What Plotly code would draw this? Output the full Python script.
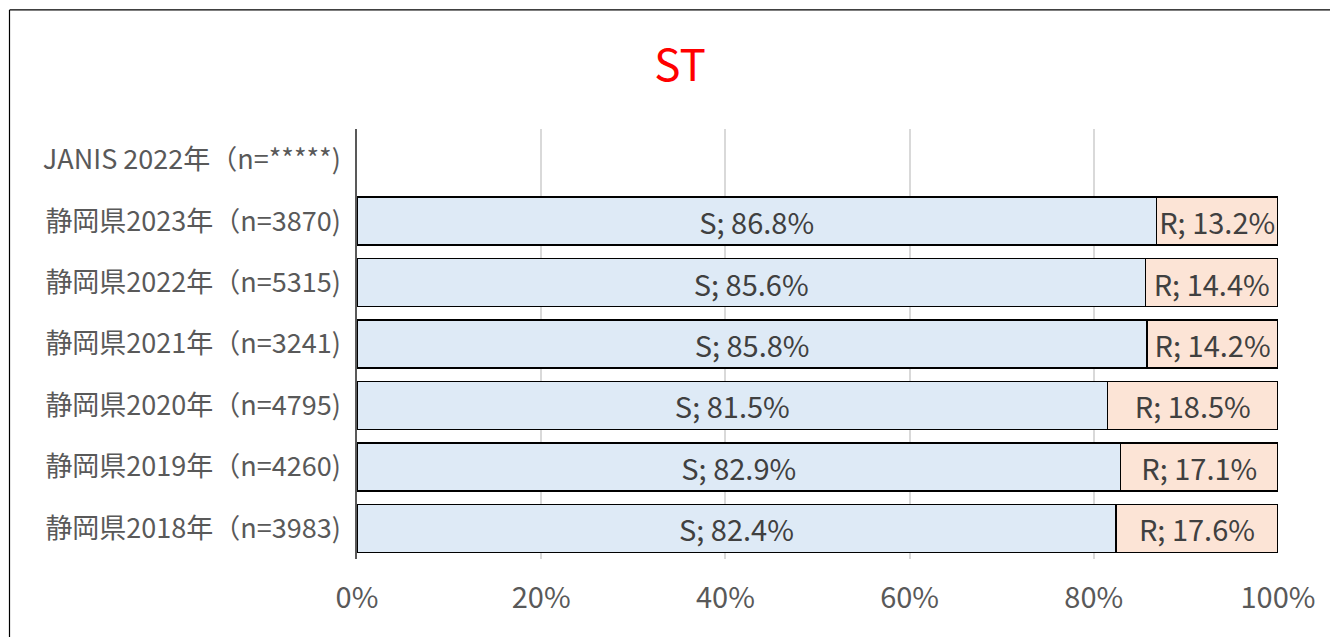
import plotly.graph_objects as go

categories = [
    "JANIS 2022年（n=*****)",
    "静岡県2023年（n=3870)",
    "静岡県2022年（n=5315)",
    "静岡県2021年（n=3241)",
    "静岡県2020年（n=4795)",
    "静岡県2019年（n=4260)",
    "静岡県2018年（n=3983)",
]
s_values = [None, 86.8, 85.6, 85.8, 81.5, 82.9, 82.4]
r_values = [None, 13.2, 14.4, 14.2, 18.5, 17.1, 17.6]
x_ticks = [0, 20, 40, 60, 80, 100]
x_tick_labels = ["0%", "20%", "40%", "60%", "80%", "100%"]

# page body has an 8px default margin; compensate
OFF = 8
W, H = 1338, 637
L = 357 - OFF
T = 129 - OFF
pw = 1278 - 357
ph = 429.7
R = W - L - pw
B = H - T - ph

font_family = "Noto Sans CJK JP"

fig = go.Figure()
for name, vals, color in [("S", s_values, "#DEEAF6"), ("R", r_values, "#FCE4D6")]:
    fig.add_trace(go.Bar(
        name=name, y=categories, x=vals, orientation="h",
        marker=dict(color=color, line=dict(color="#000000", width=1.5)),
        texttemplate=name + "; %{x:.1f}%",
        textposition="inside", insidetextanchor="middle", textangle=0,
        constraintext="none",
        textfont=dict(family=font_family, size=29, color="#404040"),
        hoverinfo="skip",
    ))

px_x = lambda p: (p - OFF - L) / pw
px_y = lambda p: (T + ph - (p - OFF)) / ph

fig.update_layout(
    width=W, height=H,
    barmode="stack", bargap=0.218,
    showlegend=False,
    plot_bgcolor="white", paper_bgcolor="white",
    margin=dict(l=L, r=R, t=T, b=B, autoexpand=False),
    font=dict(family=font_family, color="#595959"),
    title=dict(text="ST", font=dict(family=font_family, size=44, color="#FF0000"),
               xref="container", x=(680 - OFF) / W, xanchor="center",
               yref="container", y=1 - (66 - OFF) / H, yanchor="middle"),
    xaxis=dict(range=[0, 100], tickvals=x_ticks, ticktext=x_tick_labels,
               showgrid=True, gridcolor="#D9D9D9", gridwidth=1.5,
               zeroline=False, showline=False,
               tickfont=dict(size=29, color="#595959"), ticks="",
               ticklabelstandoff=19),
    yaxis=dict(autorange="reversed", showgrid=False, showline=True,
               linecolor="#595959", linewidth=1.5, ticks="",
               tickfont=dict(size=27, color="#595959"),
               ticklabelstandoff=9),
    shapes=[
        dict(type="line", xref="paper", yref="paper",
             x0=px_x(9.5), x1=px_x(W + 40), y0=px_y(10), y1=px_y(10),
             line=dict(color="#000000", width=1.2), layer="below"),
        dict(type="line", xref="paper", yref="paper",
             x0=px_x(9.5), x1=px_x(9.5), y0=px_y(10), y1=px_y(H + 40),
             line=dict(color="#000000", width=1.2), layer="below"),
    ],
)

fig.write_html("out.html")
